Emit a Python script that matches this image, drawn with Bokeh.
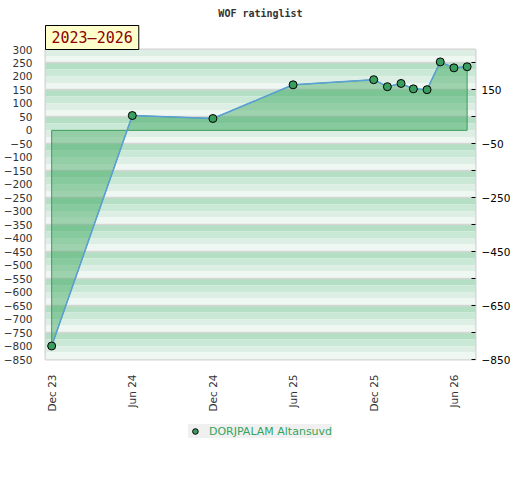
import math
import pandas as pd
from bokeh.plotting import figure
from bokeh.layouts import column
from bokeh.models import (FixedTicker, LinearAxis, DatetimeTickFormatter, Legend,
                          LegendItem, Title, Range1d)
from bokeh.embed import file_html
from bokeh.resources import INLINE

# ---- data ----
dates = ["2023-12-01", "2024-06-01", "2024-12-01", "2025-06-01", "2025-12-01",
         "2026-01-01", "2026-02-01", "2026-03-01", "2026-04-01", "2026-05-01",
         "2026-06-01", "2026-07-01"]
ratings = [-800, 55, 44, 169, 188, 162, 174, 154, 151, 254, 232, 236]
series_name = "DORJPALAM Altansuvd"
x_tick_dates = ["2023-12-01", "2024-06-01", "2024-12-01", "2025-06-01",
                "2025-12-01", "2026-06-01"]
left_ticks = list(range(-850, 301, 50))
right_major = [-850, -650, -450, -250, -50, 150]
right_minor = [-750, -550, -350, -150, 50, 250]
grid_lines = [250, 150, 50, -50, -150, -250, -350, -450, -550, -650, -750]
period_label = "2023\u20132026"
title_text = "WOF ratinglist"

x = pd.to_datetime(dates)
x_start = pd.Timestamp("2023-11-17")
x_end = pd.Timestamp("2026-07-20")
y_lo, y_hi = -850, 300

p = figure(frame_width=430, frame_height=310, x_axis_type="datetime",
           output_backend="svg", toolbar_location=None,
           x_range=Range1d(x_start, x_end), y_range=Range1d(y_lo, y_hi),
           min_border_left=37, min_border_right=0, min_border_top=42,
           min_border_bottom=64, title=None)
p.background_fill_color = "white"
p.border_fill_color = "white"
p.outline_line_color = "#d4d4d4"
p.outline_line_width = 2
p.xgrid.visible = False
p.ygrid.visible = False

# background stripes (25-unit sub-bands, 100-unit pattern)
stripe_colors = ["#b4dfc5", "#c9e8d5", "#ddefe4", "#eff7f2"]
y0s, y1s, cols = [], [], []
for top in range(y_hi, y_lo, -25):
    y0s.append(top - 25)
    y1s.append(top)
    cols.append(stripe_colors[((250 - top) % 100) // 25])
p.hstrip(y0=y0s, y1=y1s, fill_color=cols, line_color=None)
p.hspan(y=grid_lines, line_color="#d6d6d6", line_width=1.5)

# area to zero
px = list(x) + [x[-1], x[0]]
py = ratings + [0, 0]
p.patch(px, py, fill_color="#2ea052", fill_alpha=0.42,
        line_color="#3d9b5c", line_width=1)
p.line(x, ratings, line_color="#5b9fd8", line_width=1.5)
p.scatter(x, ratings, size=8, fill_color="#3a9e5f",
          line_color="black", line_width=1)

# x axis
ticks_ms = [pd.Timestamp(d).value // 10**6 for d in x_tick_dates]
xa = p.xaxis[0]
xa.ticker = FixedTicker(ticks=ticks_ms)
xa.formatter = DatetimeTickFormatter(days="%b %y", months="%b %y", years="%b %y",
                                     hours="%b %y", minutes="%b %y")
xa.major_label_orientation = math.pi / 2
xa.major_tick_line_color = None
xa.minor_tick_line_color = None
xa.axis_line_color = None
xa.major_label_standoff = 9
xa.major_label_text_font = "DejaVu Sans"
xa.major_label_text_font_size = "10.5px"
xa.major_label_text_color = "#333333"

# left y axis
ya = p.yaxis[0]
ya.ticker = FixedTicker(ticks=left_ticks)
ya.major_tick_line_color = None
ya.minor_tick_line_color = None
ya.axis_line_color = None
ya.major_label_standoff = 7
ya.major_label_text_font = "DejaVu Sans"
ya.major_label_text_font_size = "10.5px"
ya.major_label_text_color = "#333333"

# right y axis
ra = LinearAxis(ticker=FixedTicker(ticks=right_major, minor_ticks=right_minor))
ra.major_tick_in = 4
ra.major_tick_out = 0
ra.minor_tick_in = 4
ra.minor_tick_out = 0
ra.major_tick_line_color = "black"
ra.minor_tick_line_color = "black"
ra.axis_line_color = None
ra.major_label_standoff = 6
ra.major_label_text_font = "DejaVu Sans"
ra.major_label_text_font_size = "10.5px"
ra.major_label_text_color = "black"
p.add_layout(ra, "right")

# period badge and title (side panel, above)
badge = Title(text=period_label, align="left", offset=0, standoff=0,
              text_font="DejaVu Sans Mono", text_font_size="15px",
              text_font_style="normal",
              text_color="#8b0000", background_fill_color="#ffffcc",
              border_line_color="black", border_line_width=1, padding=(6, 3))
p.add_layout(badge, "above")
main_title = Title(text=title_text, align="center", standoff=10,
                   text_font="DejaVu Sans Mono", text_font_size="10px",
                   text_font_style="bold", text_color="#333333")
p.add_layout(main_title, "above")

# legend strip (separate small figure; its key renderer lies outside its ranges)
lg = figure(frame_width=430, height=56, output_backend="svg", toolbar_location=None,
            x_range=(0, 1), y_range=(0, 1), x_axis_location=None,
            y_axis_location=None, min_border=0, min_border_left=37,
            min_border_right=45)
lg.outline_line_color = None
lg.xgrid.visible = False
lg.ygrid.visible = False
key = lg.scatter(x=x, y=ratings, size=8, fill_color="#3a9e5f",
                 line_color="black", line_width=1)
legend = Legend(items=[LegendItem(label=series_name, renderers=[key])],
                location="top_center", orientation="horizontal",
                background_fill_color="#f0f0f0", background_fill_alpha=1,
                border_line_color=None, label_text_color="#35a55e",
                label_text_font="DejaVu Sans", label_text_font_size="11px",
                glyph_width=14, glyph_height=14, label_height=14,
                label_standoff=7, margin=1, padding=4)
lg.add_layout(legend, "center")

layout = column(p, lg, spacing=0)
open("out.html", "w").write(file_html(layout, INLINE))
